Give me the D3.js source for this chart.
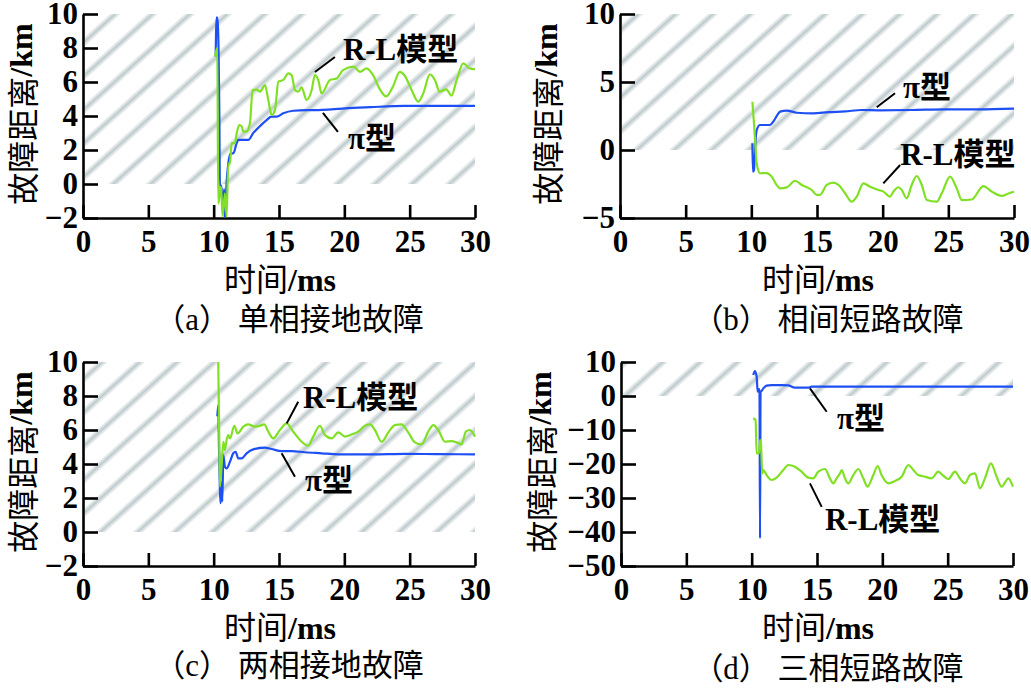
<!DOCTYPE html>
<html><head><meta charset="utf-8">
<script src="https://cdn.jsdelivr.net/npm/d3@7"></script>
<style>html,body{margin:0;padding:0;background:#fff;} svg{display:block}</style>
</head><body>
<svg id="chart" width="1031" height="688"></svg>
<script>
// ---------------- data ----------------
const xTicks = [0, 5, 10, 15, 20, 25, 30];
const yTicksA = [-2, 0, 2, 4, 6, 8, 10];
const yTicksB = [-5, 0, 5, 10];
const yTicksC = [-2, 0, 2, 4, 6, 8, 10];
const yTicksD = [-50, -40, -30, -20, -10, 0, 10];
const captions = ["（a） 单相接地故障", "（b） 相间短路故障", "（c） 两相接地故障", "（d） 三相短路故障"];
const seriesNames = ["π型", "R-L模型"];
const xTitle = "时间/ms";
const yTitle = "故障距离/km";

// [time ms, fault distance km]
const aPi = [[10.15,7.5],[10.23,9.8],[10.3,9.6],[10.38,7.6],[10.43,4.5],[10.48,-0.2],[10.6,-0.1],[10.7,-1.7],[10.8,-0.3],[10.86,-2.0],[11.0,0.2],[11.12,1.2],[11.3,1.8],[11.5,1.8],[11.76,2.4],[11.88,2.6],[12.27,2.6],[12.65,2.6],[13.03,3.0],[13.54,3.4],[14.05,3.76],[14.43,3.96],[14.82,3.96],[15.33,4.16],[16.09,4.31],[17.11,4.35],[18.0,4.35],[19.0,4.39],[20.05,4.45],[22.0,4.52],[24.6,4.59],[27.0,4.59],[30,4.59]];
const aRL = [[10.1,7.5],[10.28,8.0],[10.35,-1.14],[10.43,-0.8],[10.56,-0.16],[10.69,-1.9],[10.86,-0.55],[10.99,-1.9],[11.12,1.2],[11.25,1.2],[11.37,2.4],[11.63,2.4],[11.76,2.98],[11.96,3.47],[12.14,3.4],[12.27,3.08],[12.52,3.08],[12.78,3.6],[12.98,5.53],[13.29,5.55],[13.54,5.43],[13.93,5.82],[14.18,4.94],[14.44,4.06],[14.69,4.35],[14.95,6.02],[15.33,6.12],[15.71,6.51],[15.97,6.4],[16.22,5.53],[16.47,5.43],[16.73,5.69],[17.11,4.94],[17.5,5.53],[17.75,6.41],[18.0,6.12],[18.26,5.33],[18.9,6.12],[19.4,6.2],[19.9,6.7],[20.7,6.9],[21.2,6.6],[21.7,6.8],[22.2,6.4],[22.7,5.6],[23.2,5.15],[23.7,5.7],[24.25,6.6],[24.6,6.4],[25.15,5.53],[25.66,4.84],[26.04,5.33],[26.55,6.45],[26.93,6.12],[27.3,5.43],[27.8,5.57],[28.2,5.2],[28.6,6.12],[29.1,7.1],[29.6,6.8],[30,6.76]];

const bPi = [[10.08,0.5],[10.12,-1.6],[10.2,-1.5],[10.3,0.4],[10.41,1.47],[10.66,1.84],[11.42,1.84],[11.68,2.1],[12.0,2.6],[12.19,2.82],[12.7,2.9],[13.46,2.74],[14.72,2.7],[15.87,2.78],[17.14,2.84],[18.41,2.94],[19.68,2.92],[22.2,2.94],[24.75,2.99],[27.3,2.99],[30,3.04]];
const bRL = [[10.08,3.55],[10.2,2.0],[10.3,0.5],[10.4,-0.9],[10.5,-1.4],[10.66,-1.71],[11.17,-1.7],[11.55,-1.96],[11.93,-2.57],[12.19,-2.82],[12.7,-2.75],[13.33,-2.26],[13.84,-2.57],[14.6,-2.94],[14.98,-3.3],[15.23,-3.3],[15.74,-2.57],[16.25,-2.4],[16.63,-2.57],[17.14,-3.18],[17.64,-3.8],[18.03,-3.43],[18.53,-2.45],[19.04,-2.7],[19.68,-2.94],[20.06,-3.06],[20.56,-3.43],[20.82,-3.06],[21.2,-2.74],[21.45,-2.94],[21.83,-3.55],[22.21,-2.57],[22.59,-1.91],[22.98,-2.57],[23.36,-3.68],[24.12,-3.8],[24.5,-3.18],[25.13,-1.96],[25.64,-2.82],[26.02,-3.68],[26.78,-3.64],[27.67,-2.65],[28.31,-3.06],[29.07,-3.38],[29.58,-3.2],[30,-3.06]];

const cPi = [[10.28,6.8],[10.35,7.47],[10.41,4.92],[10.53,1.69],[10.61,2.96],[10.66,1.8],[10.74,4.53],[10.86,3.84],[10.99,3.74],[11.25,4.14],[11.5,4.63],[11.68,4.72],[11.88,4.33],[12.14,4.33],[12.52,4.63],[13.03,4.86],[13.92,4.96],[14.43,4.88],[15.2,4.76],[15.96,4.76],[16.98,4.69],[18.26,4.63],[19.54,4.57],[22.1,4.57],[24.64,4.6],[27.2,4.58],[30,4.57]];
const cRL = [[10.35,10],[10.42,6],[10.48,2.67],[10.61,3.94],[10.74,5.31],[10.86,4.82],[10.99,5.41],[11.12,5.7],[11.25,5.5],[11.58,6.25],[11.83,5.8],[12.27,6.2],[12.65,6.33],[13.16,6.2],[13.54,6.25],[13.87,6.33],[14.18,5.9],[14.56,5.51],[15.07,6.0],[15.58,6.39],[16.09,5.9],[16.73,5.31],[17.24,5.08],[17.62,5.61],[18.13,6.25],[18.52,5.7],[19.03,5.51],[19.54,5.86],[20.05,5.61],[20.56,5.74],[21.07,5.9],[21.58,6.25],[21.96,6.33],[22.34,6.0],[22.85,5.31],[23.37,5.86],[23.87,6.29],[24.38,6.33],[24.89,5.86],[25.4,5.27],[25.91,5.15],[26.42,5.9],[26.81,6.29],[27.19,6.0],[27.7,5.31],[28.21,5.35],[28.59,5.27],[28.97,5.15],[29.3,5.9],[29.6,6.0],[30,5.61]];

const dPi = [[10.12,6.18],[10.25,7.35],[10.38,5.7],[10.46,1.27],[10.56,2.0],[10.6,1.3],[10.64,-41.9],[10.68,1.3],[10.71,1.3],[10.89,2.25],[11.14,3.04],[11.53,3.2],[12.29,3.2],[12.8,3.1],[13.31,2.45],[14.33,2.45],[14.59,2.75],[19.69,2.75],[30,2.75]];
const dRL = [[10.12,-6.57],[10.3,-7.06],[10.38,-16.86],[10.56,-16.86],[10.64,-12.94],[10.71,-13.92],[10.81,-22.75],[10.89,-21.76],[11.14,-23.24],[11.53,-24.71],[11.91,-24.02],[12.42,-21.76],[12.8,-20.29],[13.31,-20.78],[13.82,-22.25],[14.33,-24.02],[14.71,-24.22],[15.1,-22.25],[15.61,-21.47],[15.99,-24.22],[16.25,-25.69],[16.5,-24.22],[16.76,-22.75],[16.89,-21.76],[17.14,-24.22],[17.39,-25.69],[17.78,-23.24],[18.16,-21.47],[18.54,-24.22],[18.87,-26.67],[19.31,-23.24],[19.64,-20.59],[19.94,-23.24],[20.45,-25.69],[20.97,-25.0],[21.48,-23.73],[21.99,-20.29],[22.37,-21.76],[22.75,-23.24],[23.26,-23.73],[23.77,-24.22],[24.28,-22.25],[24.66,-23.43],[25.05,-24.41],[25.56,-22.25],[25.94,-24.22],[26.32,-25.69],[26.71,-23.24],[27.09,-22.75],[27.47,-27.16],[27.85,-24.22],[28.31,-19.8],[28.75,-23.73],[29.13,-26.67],[29.64,-24.22],[30,-26.67]];

// annotation anchors in data coords, order [π, R-L]: [leader start, leader end, text position]
const aNotes = [[[18.36,4.18],[19.51,3.06],[20.28,2.06]], [[17.75,6.59],[19.28,7.47],[19.89,7.32]]];
const bNotes = [[[19.55,3.14],[20.94,4.17],[21.55,3.86]], [[20.05,-2.45],[21.33,-1.1],[21.33,-1.07]]];
const cNotes = [[[15.2,4.63],[16.22,3.25],[16.99,2.44]], [[15.59,6.39],[16.47,7.66],[16.83,7.32]]];
const dNotes = [[[14.46,2.26],[15.74,-4.62],[16.53,-9.85]], [[14.46,-25.7],[15.36,-32.6],[15.61,-39.3]]];

// ---------------- layout ----------------
const panels = [
  {x0:83, x1:475, y0:14, y1:218, dom:[-2,10], ticks:yTicksA, pi:aPi, rl:aRL, notes:aNotes, titleX:21, cap:captions[0], capX:289, capY:330},
  {x0:620, x1:1014, y0:14, y1:218, dom:[-5,10], ticks:yTicksB, pi:bPi, rl:bRL, notes:bNotes, titleX:546, cap:captions[1], capX:828, capY:330},
  {x0:83, x1:475, y0:362, y1:566, dom:[-2,10], ticks:yTicksC, pi:cPi, rl:cRL, notes:cNotes, titleX:21, cap:captions[2], capX:289, capY:676},
  {x0:621, x1:1013, y0:362, y1:566, dom:[-50,10], ticks:yTicksD, pi:dPi, rl:dRL, notes:dNotes, titleX:540, cap:captions[3], capX:828, capY:679}
];
const BLUE = "#1d4ff2", GREEN = "#80e024";
const SERIF = "Liberation Serif, Times New Roman, Noto Sans CJK SC, serif";
const CJK = "Noto Sans CJK SC, Liberation Serif, sans-serif";

const svg = d3.select("#chart");
const defs = svg.append("defs");
const pat = defs.append("pattern").attr("id","hatch").attr("patternUnits","userSpaceOnUse")
  .attr("width",25).attr("height",25).attr("patternTransform","rotate(-42)");
pat.append("line").attr("x1",-5).attr("x2",30).attr("y1",12.5).attr("y2",12.5).attr("stroke","#e9edee").attr("stroke-width",7);
pat.append("line").attr("x1",-5).attr("x2",30).attr("y1",12.5).attr("y2",12.5).attr("stroke","#d3dbdd").attr("stroke-width",4);
pat.append("line").attr("x1",-5).attr("x2",30).attr("y1",12.5).attr("y2",12.5).attr("stroke","#bdc9cc").attr("stroke-width",1.6);

panels.forEach((p, i) => {
  const x = d3.scaleLinear().domain([0,30]).range([p.x0, p.x1]);
  const y = d3.scaleLinear().domain(p.dom).range([p.y1, p.y0]);
  const g = svg.append("g");

  // hatch band (positive region)
  g.append("rect").attr("x", x(0)+2).attr("y", y(10)).attr("width", x(30)-x(0)-2).attr("height", y(0)-y(10))
    .attr("fill","url(#hatch)");

  // axes
  const ax = g.append("g").attr("transform",`translate(0,${p.y1})`)
    .call(d3.axisBottom(x).tickValues(xTicks).tickSizeInner(-13).tickSizeOuter(0).tickPadding(12));
  const ay = g.append("g").attr("transform",`translate(${p.x0},0)`)
    .call(d3.axisLeft(y).tickValues(p.ticks).tickSizeInner(-15).tickSizeOuter(0).tickPadding(5));
  [ax, ay].forEach(a => {
    a.attr("font-family", SERIF).attr("font-size", 31);
    a.select(".domain").attr("stroke","#000").attr("stroke-width",2.6);
    a.selectAll(".tick line").attr("stroke","#000").attr("stroke-width",2.6);
    a.selectAll(".tick text").attr("fill","#000").style("font-family",SERIF).style("font-size","31px").style("font-weight","bold");
  });

  // lines
  const line = d3.line().x(d => x(d[0])).y(d => y(d[1])).curve(d3.curveMonotoneX);
  const clipId = "clip"+i;
  defs.append("clipPath").attr("id",clipId).append("rect")
    .attr("x",p.x0).attr("y",p.y0-6).attr("width",p.x1-p.x0+2).attr("height",p.y1-p.y0+6);
  const lg = g.append("g").attr("clip-path",`url(#${clipId})`);
  lg.append("path").datum(p.pi).attr("d",line).attr("fill","none").attr("stroke",BLUE).attr("stroke-width",2.2).attr("stroke-linejoin","round");
  lg.append("path").datum(p.rl).attr("d",line).attr("fill","none").attr("stroke",GREEN).attr("stroke-width",2.2).attr("stroke-linejoin","round");

  // annotations
  p.notes.forEach((n, k) => {
    g.append("line").attr("x1",x(n[0][0])).attr("y1",y(n[0][1])).attr("x2",x(n[1][0])).attr("y2",y(n[1][1]))
      .attr("stroke","#000").attr("stroke-width",2);
    const t = g.append("text").attr("x",x(n[2][0])).attr("y",y(n[2][1])).style("font-size","31px").style("font-weight","bold").attr("fill","#000");
    const name = seriesNames[k];
    const latin = k === 0 ? "π" : "R-L";
    t.append("tspan").style("font-family",SERIF).text(latin);
    t.append("tspan").style("font-family",CJK).text(name.slice(latin.length));
  });

  // axis titles
  const xt = svg.append("text").attr("x",(p.x0+p.x1)/2+1).attr("y",p.y1+73).attr("text-anchor","middle").style("font-size","32px").attr("fill","#000");
  xt.append("tspan").style("font-family",CJK).text(xTitle.slice(0,2));
  xt.append("tspan").style("font-family",SERIF).style("font-weight","bold").text(xTitle.slice(2));
  const yt = svg.append("text").attr("transform",`translate(${p.titleX},${(p.y0+p.y1)/2-2}) rotate(-90)`)
    .attr("text-anchor","middle").attr("dominant-baseline","central").style("font-size","32px").attr("fill","#000");
  yt.append("tspan").style("font-family",CJK).text(yTitle.slice(0,4));
  yt.append("tspan").style("font-family",SERIF).style("font-weight","bold").text(yTitle.slice(4));

  // caption
  svg.append("text").attr("x",p.capX).attr("y",p.capY).attr("text-anchor","middle")
    .style("font-family",SERIF).style("font-size","31px").attr("fill","#000").text(p.cap);
});
</script>
</body></html>
